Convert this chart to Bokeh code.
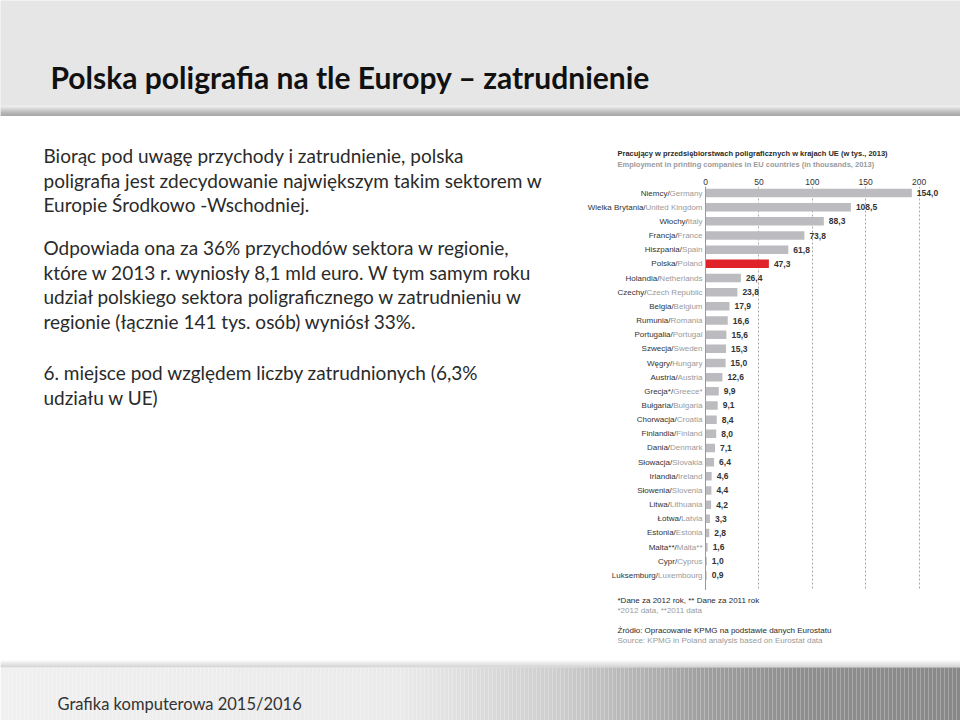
import numpy as np
from bokeh.plotting import figure
from bokeh.models import Range1d, ColumnDataSource, FixedTicker, Span
from bokeh.layouts import column, row
from bokeh.core.properties import value
from bokeh.embed import file_html
from bokeh.resources import INLINE

# ---------------- data ----------------
countries_pl = ["Niemcy", "Wielka Brytania", "Włochy", "Francja", "Hiszpania", "Polska",
                "Holandia", "Czechy", "Belgia", "Rumunia", "Portugalia", "Szwecja", "Węgry",
                "Austria", "Grecja*", "Bułgaria", "Chorwacja", "Finlandia", "Dania", "Słowacja",
                "Irlandia", "Słowenia", "Litwa", "Łotwa", "Estonia", "Malta**", "Cypr", "Luksemburg"]
countries_en = ["Germany", "United Kingdom", "Italy", "France", "Spain", "Poland",
                "Netherlands", "Czech Republic", "Belgium", "Romania", "Portugal", "Sweden", "Hungary",
                "Austria", "Greece*", "Bulgaria", "Croatia", "Finland", "Denmark", "Slovakia",
                "Ireland", "Slovenia", "Lithuania", "Latvia", "Estonia", "Malta**", "Cyprus", "Luxembourg"]
employment = [154.0, 108.5, 88.3, 73.8, 61.8, 47.3, 26.4, 23.8, 17.9, 16.6, 15.6, 15.3, 15.0,
              12.6, 9.9, 9.1, 8.4, 8.0, 7.1, 6.4, 4.6, 4.4, 4.2, 3.3, 2.8, 1.6, 1.0, 0.9]
highlight_country = "Polska"
tick_values = [0, 50, 100, 150, 200]

slide_title = "Polska poligrafia na tle Europy – zatrudnienie"
body_paragraphs = [
    ["Biorąc pod uwagę przychody i zatrudnienie, polska",
     "poligrafia jest zdecydowanie największym takim sektorem w",
     "Europie Środkowo -Wschodniej."],
    ["Odpowiada ona za 36% przychodów sektora w regionie,",
     "które w 2013 r. wyniosły 8,1 mld euro. W tym samym roku",
     "udział polskiego sektora poligraficznego w zatrudnieniu w",
     "regionie (łącznie 141 tys. osób) wyniósł 33%."],
    ["6. miejsce pod względem liczby zatrudnionych (6,3%",
     "udziału w UE)"],
]
chart_title_pl = "Pracujący w przedsiębiorstwach poligraficznych w krajach UE (w tys., 2013)"
chart_title_en = "Employment in printing companies in EU countries (in thousands, 2013)"
note_pl = "*Dane za 2012 rok, ** Dane za 2011 rok"
note_en = "*2012 data, **2011 data"
source_pl = "Źródło: Opracowanie KPMG na podstawie danych Eurostatu"
source_en = "Source: KPMG in Poland analysis based on Eurostat data"
footer_text = "Grafika komputerowa 2015/2016"

# ---------------- styles ----------------
CHART_FONT = "Liberation Sans"
BODY = "Lato"
DARK = "#2a2a2a"
GREY_TXT = "#9a9a9a"
BAR_GREY = "#bcbcc0"
BAR_RED = "#e0232b"

def grey(v):
    v = int(round(v))
    return "#%02x%02x%02x" % (v, v, v)

def base_fig(w, h, xr, yr):
    f = figure(width=w, height=h, x_range=xr, y_range=yr, toolbar_location=None,
               output_backend="svg", min_border=0, x_axis_location=None,
               y_axis_location=None, title=None)
    f.grid.visible = False
    f.outline_line_color = None
    f.background_fill_color = "white"
    f.border_fill_color = "white"
    f.frame_align = False
    return f

# ---------------- header ----------------
hdr = base_fig(960, 116, Range1d(0, 960), Range1d(116, 0))
hdr.background_fill_color = "#e6e6e6"
hdr.border_fill_color = "#e6e6e6"
strip_rows = np.arange(105, 116)
strip_shades = [240, 238, 222, 210, 198, 187, 176, 166, 158, 152, 150]
hdr.quad(left=0, right=960, top=strip_rows, bottom=strip_rows + 1,
         fill_color=[grey(s) for s in strip_shades], line_color=None)
hdr.text(x=[50], y=[76], text=[slide_title], text_font=value(BODY), text_font_size="30px",
         text_font_style="bold", text_color="#111111", text_baseline="alphabetic")

# ---------------- left body text ----------------
TXT_W = 570
txt = base_fig(TXT_W, 544, Range1d(0, TXT_W), Range1d(660, 116))
para_start = [155, 247, 372]
line_gap = 24.7
lx, ly, lt = [], [], []
for start, para in zip(para_start, body_paragraphs):
    for i, line in enumerate(para):
        lx.append(43)
        ly.append(start + i * line_gap)
        lt.append(line)
txt.text(x=lx, y=ly, text=lt, text_font=value(BODY), text_font_size="19px",
         text_color="#2a2a2a", text_baseline="middle")

# ---------------- chart title block ----------------
CH_W = 960 - TXT_W
ctitle = base_fig(CH_W, 54, Range1d(TXT_W, 960), Range1d(170, 116))
ctitle.text(x=[617, 617], y=[153, 163.5], text=[chart_title_pl, chart_title_en],
            text_font=value(CHART_FONT), text_font_size="7.5px", text_font_style="bold",
            text_color=[DARK, GREY_TXT], text_baseline="middle")

# ---------------- chart ----------------
ARIAL_W = {' ': 278, '*': 389, '/': 278,
           'a': 556, 'b': 556, 'c': 500, 'd': 556, 'e': 556, 'f': 278, 'g': 556, 'h': 556,
           'i': 222, 'j': 222, 'k': 500, 'l': 222, 'm': 833, 'n': 556, 'o': 556, 'p': 556,
           'q': 556, 'r': 333, 's': 500, 't': 278, 'u': 556, 'v': 500, 'w': 722, 'x': 500,
           'y': 500, 'z': 500,
           'A': 667, 'B': 667, 'C': 722, 'D': 722, 'E': 667, 'F': 611, 'G': 778, 'H': 722,
           'I': 278, 'J': 500, 'K': 667, 'L': 556, 'M': 833, 'N': 722, 'O': 778, 'P': 667,
           'Q': 778, 'R': 722, 'S': 667, 'T': 611, 'U': 722, 'V': 667, 'W': 944, 'X': 667,
           'Y': 667, 'Z': 611}
LABEL_PX = 8.0

def text_width(s, size):
    # Liberation Sans is metric-compatible with Arial
    return sum(ARIAL_W.get(c, 556) for c in s) / 1000.0 * size

n = len(employment)
px_per_bar_unit = 1.34      # bar scale of the original graphic
px_per_axis_unit = 1.068    # axis scale of the original graphic
frame_left = TXT_W
frame_right = 945
zero_px = 705
frame_w = frame_right - frame_left
zero_from_left = zero_px - frame_left
CH_H = 420                  # chart canvas from y=170 to y=590
TOP_BORDER = 16             # frame top at y=186

ch = figure(width=CH_W, height=CH_H, toolbar_location=None, output_backend="svg", title=None,
            x_range=Range1d(-zero_from_left / px_per_axis_unit, (frame_w - zero_from_left) / px_per_axis_unit),
            y_range=Range1d(n - 1 + 1.06, -0.46),
            x_axis_location="above", y_axis_location=None,
            min_border_left=0, min_border_right=960 - frame_right,
            min_border_top=TOP_BORDER, min_border_bottom=0)
ch.frame_align = False
ch.extra_x_ranges = {"bars": Range1d(-zero_from_left / px_per_bar_unit,
                                     (frame_w - zero_from_left) / px_per_bar_unit)}
ch.outline_line_color = None
ch.background_fill_color = "white"
ch.border_fill_color = "white"
ch.ygrid.visible = False

src = ColumnDataSource(dict(
    idx=list(range(n)),
    val=employment,
    lab=[("%.1f" % v).replace(".", ",") for v in employment],
    color=[BAR_RED if c == highlight_country else BAR_GREY for c in countries_pl],
    pl=[c + "/" for c in countries_pl],
    en=countries_en,
    pl_off=[-(3 + text_width(e, LABEL_PX)) for e in countries_en],
))

ax = ch.xaxis[0]
ax.ticker = FixedTicker(ticks=tick_values)
ax.axis_line_color = None
ax.major_tick_line_color = None
ax.minor_tick_line_color = None
ax.major_tick_out = 0
ax.major_tick_in = 0
ax.major_label_standoff = 2
ax.major_label_text_font = CHART_FONT
ax.major_label_text_font_size = "8.5px"
ax.major_label_text_color = "#333333"

ch.xgrid.grid_line_color = "#a8a8a8"
ch.xgrid.grid_line_dash = "2 2"
ch.xgrid.grid_line_width = 1

ch.hbar(y="idx", left=0, right="val", height=0.6, fill_color="color", line_color=None,
        source=src, x_range_name="bars")
ch.add_layout(Span(location=0, dimension="height", line_color="#999999", line_width=1))

ch.text(x="val", y="idx", text="lab", source=src, x_range_name="bars", x_offset=5,
        text_font=value(CHART_FONT), text_font_size="8.5px", text_font_style="bold",
        text_color="#333333", text_baseline="middle", text_align="left")
ch.text(x=0, y="idx", text="en", source=src, x_range_name="bars", x_offset=-3,
        text_font=value(CHART_FONT), text_font_size="%gpx" % LABEL_PX, text_color=GREY_TXT,
        text_baseline="middle", text_align="right")
ch.text(x=0, y="idx", text="pl", source=src, x_range_name="bars", x_offset="pl_off",
        text_font=value(CHART_FONT), text_font_size="%gpx" % LABEL_PX, text_color="#333333",
        text_baseline="middle", text_align="right")

# ---------------- notes block ----------------
cnotes = base_fig(CH_W, 70, Range1d(TXT_W, 960), Range1d(660, 590))
cnotes.text(x=[617] * 4, y=[600, 609.5, 630, 640],
            text=[note_pl, note_en, source_pl, source_en],
            text_font=value(CHART_FONT), text_font_size="8px",
            text_color=[DARK, GREY_TXT, DARK, GREY_TXT], text_baseline="middle")

# ---------------- footer ----------------
ftr = base_fig(960, 60, Range1d(0, 960), Range1d(720, 660))
sh_rows = np.arange(659, 667)
sh_shades = np.linspace(252, 200, len(sh_rows))
ftr.quad(left=0, right=960, top=sh_rows, bottom=sh_rows + 1,
         fill_color=[grey(s) for s in sh_shades], line_color=None)
band_x = np.arange(0, 960, 4)
band_shades = np.interp(band_x + 2, [0, 400, 560, 700, 800, 960], [240, 234, 205, 160, 142, 136])
ftr.quad(left=band_x, right=band_x + 4, top=667, bottom=720,
         fill_color=[grey(s) for s in band_shades], line_color=None)
ftr.text(x=[57], y=[703], text=[footer_text], text_font=value(BODY), text_font_size="16.5px",
         text_color="#333333", text_baseline="alphabetic")

layout = column(hdr, row(txt, column(ctitle, ch, cnotes)), ftr)
open("out.html", "w").write(file_html(layout, INLINE))
